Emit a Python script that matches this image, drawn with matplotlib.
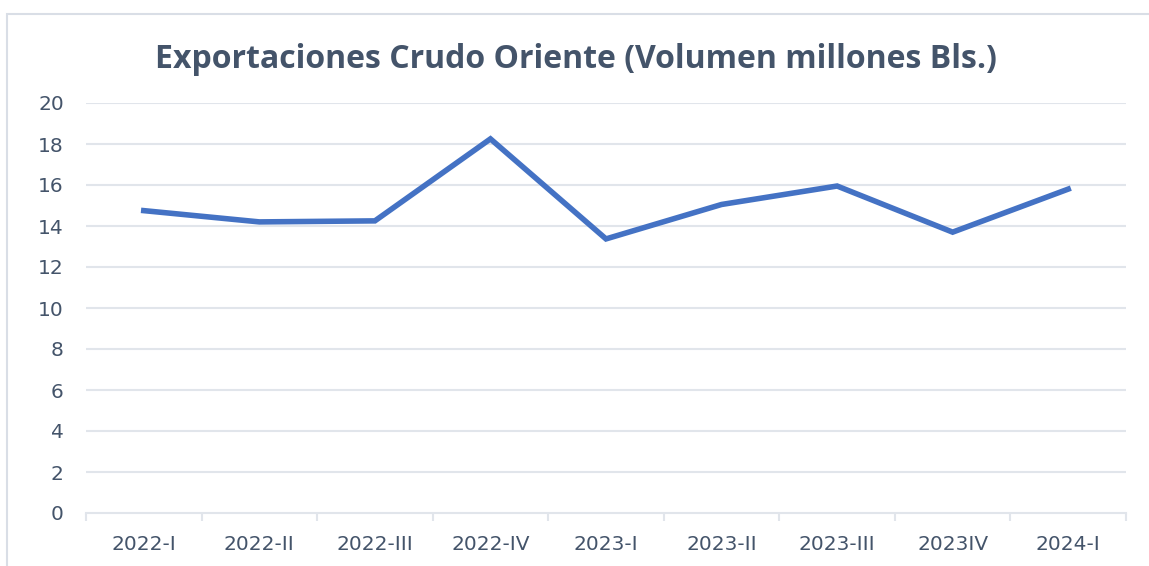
import matplotlib
matplotlib.use("Agg")
import matplotlib.pyplot as plt
from matplotlib.patches import Rectangle

categories = ["2022-I", "2022-II", "2022-III", "2022-IV", "2023-I", "2023-II", "2023-III", "2023IV", "2024-I"]
values = [14.75, 14.2, 14.25, 18.25, 13.37, 15.05, 15.95, 13.7, 15.8]
yticks = [0, 2, 4, 6, 8, 10, 12, 14, 16, 18, 20]

text_color = "#44546A"
grid_color = "#E1E5EB"
line_color = "#4472C4"

fig = plt.figure(figsize=(11.49, 5.66), dpi=100)
fig.patches.append(Rectangle((7/1149, -0.1), 1.2, 1 - 14/566 + 0.1, transform=fig.transFigure,
                             fill=False, edgecolor="#D9DEE6", linewidth=1.5))
ax = fig.add_axes([86/1149, 1 - 513/566, (1126 - 86)/1149, (513 - 103)/566])

x = list(range(len(categories)))
ax.plot(x, values, color=line_color, linewidth=4.0, solid_joinstyle="miter", zorder=3)

ax.set_xlim(-0.5, len(categories) - 0.5)
ax.set_ylim(0, 20)
ax.set_yticks(yticks)
ax.set_yticklabels([str(v) for v in yticks], fontsize=14.5, color=text_color, family="DejaVu Sans")
ax.set_xticks(x)
ax.set_xticklabels(categories, fontsize=14.5, color=text_color, family="DejaVu Sans")
ax.tick_params(axis="x", length=0, pad=16)
ax.tick_params(axis="y", length=0, pad=16)
ax.set_xticks([i - 0.5 for i in range(len(categories) + 1)], minor=True)
ax.tick_params(axis="x", which="minor", length=6, color=grid_color, width=1.5)

for v in yticks[1:]:
    ax.axhline(v, color=grid_color, linewidth=1.5, zorder=1)
for s in ["top", "right", "left"]:
    ax.spines[s].set_visible(False)
ax.spines["bottom"].set_color(grid_color)
ax.spines["bottom"].set_linewidth(1.5)

fig.text(576/1149, 1 - 60/566, "Exportaciones Crudo Oriente (Volumen millones Bls.)",
         ha="center", va="center", fontsize=23, color=text_color, family="Open Sans",
         fontweight="bold")

fig.savefig("out.png", dpi=100)
